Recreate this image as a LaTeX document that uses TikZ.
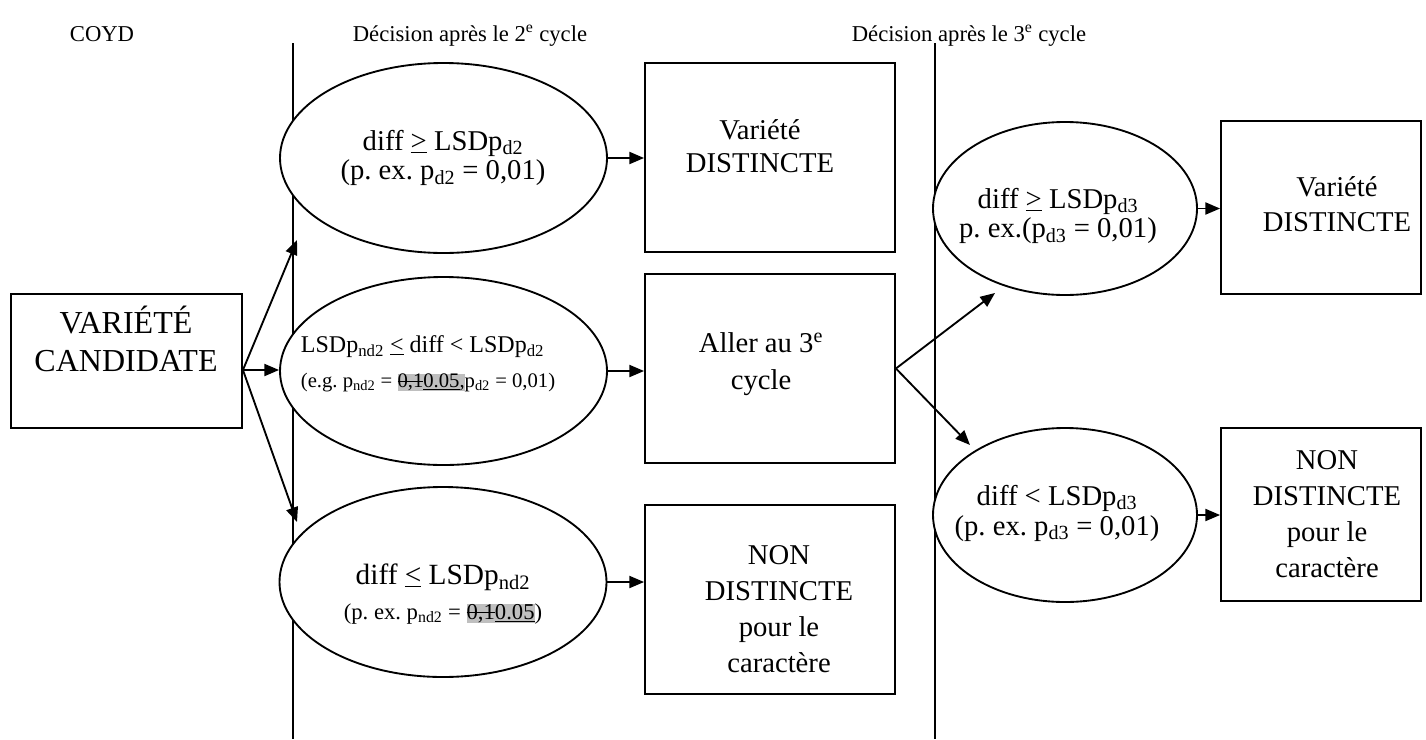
\documentclass[tikz,border=0pt]{standalone}
\usepackage{fontspec}
\setmainfont{Liberation Serif}
\usetikzlibrary{shapes.geometric}
\usetikzlibrary{arrows.meta}
\frenchspacing

\newlength{\strikelen}
\newcommand{\ssub}[1]{\textsubscript{#1}}
\newcommand{\strike}[1]{\settowidth{\strikelen}{#1}\rlap{\rule[0.28em]{\strikelen}{0.06em}}#1}
\newcommand{\grayhl}[1]{{\setlength{\fboxsep}{0pt}\colorbox{gray!50}{#1}}}

\begin{document}
\begin{tikzpicture}[x=0.75pt, y=-0.75pt, line width=1.4pt,
    box/.style={draw, rectangle, inner sep=0pt, minimum width=250*0.75pt, minimum height=189*0.75pt},
    oval/.style={draw, ellipse, fill=white, inner sep=0pt, minimum width=327*0.75pt, minimum height=190*0.75pt},
    txt/.style={align=center, inner sep=0pt, font=\fontsize{21.5}{26}\selectfont},
    head/.style={inner sep=0pt, anchor=base, font=\fontsize{17}{20}\selectfont},
    arr/.style={-{Triangle[length=11pt, width=9pt]}}]
    \useasboundingbox (0,0) rectangle (1426,739);

    % column titles
    \node[head] (coyd) at (102,41) {COYD};
    \node[head] (cycle2) at (470,41) {Décision après le 2\textsuperscript{e} cycle};
    \node[head] (cycle3) at (969,41) {Décision après le 3\textsuperscript{e} cycle};

    % draw separating lines
    \draw (293,43) -- (293,739);
    \draw (935,43) -- (935,739);

    % candidate variety
    \node[box, minimum width=231*0.75pt, minimum height=134*0.75pt] (cand) at (126.5,361) {};
    \node[txt, font=\fontsize{24}{28.5}\selectfont] (candtxt) at (126,339) {VARIÉTÉ\\CANDIDATE};

    % decisions after the 2nd cycle
    \node[oval] (dist2test) at (443.5,158) {};
    \node[txt, font=\fontsize{21.5}{22}\selectfont] (dist2testtxt) at (443,158)
        {diff \underline{>} LSDp\ssub{d2}\\(p. ex. p\ssub{d2} = 0,01)};
    \node[oval, minimum height=188*0.75pt] (gotest) at (443.5,371) {};
    \node[txt, align=left, anchor=west] (gotesttxt) at (300,364)
        {\fontsize{18}{21}\selectfont LSDp\ssub{nd2} \underline{<} diff < LSDp\ssub{d2}\\
         \fontsize{15.5}{21}\selectfont (e.g. p\ssub{nd2} = \grayhl{\strike{0,1}\underline{0.05},}p\ssub{d2} = 0,01)};
    \node[oval] (nondist2test) at (443,582) {};
    \node[txt] (nondist2testtxt) at (443,594)
        {\fontsize{22}{23}\selectfont diff \underline{<} LSDp\ssub{nd2}\\
         \fontsize{17}{23}\selectfont (p. ex. p\ssub{nd2} = \grayhl{\strike{0,1}\underline{0.05}})};

    \node[box] (dist2) at (770,157.5) {};
    \node[txt, font=\fontsize{21.5}{24.75}\selectfont] (dist2txt) at (760,146.5) {Variété\\DISTINCTE};
    \node[box] (go3) at (770,368.5) {};
    \node[txt, font=\fontsize{21.5}{27.75}\selectfont] (go3txt) at (761,364) {Aller au 3\textsuperscript{e}\\cycle};
    \node[box] (nondist2) at (770,599.5) {};
    \node[txt, font=\fontsize{21.5}{27}\selectfont] (nondist2txt) at (779,609) {NON\\DISTINCTE\\pour le\\caractère};

    % decisions after the 3rd cycle
    \node[oval, minimum width=264*0.75pt, minimum height=173*0.75pt] (dist3test) at (1065,208.5) {};
    \node[txt, font=\fontsize{21.5}{22}\selectfont] (dist3testtxt) at (1058,216)
        {diff \underline{>} LSDp\ssub{d3}\\p. ex.(p\ssub{d3} = 0,01)};
    \node[oval, minimum width=264*0.75pt, minimum height=174*0.75pt] (nondist3test) at (1065,515) {};
    \node[txt, font=\fontsize{21.5}{22.5}\selectfont] (nondist3testtxt) at (1057,513)
        {diff < LSDp\ssub{d3}\\(p. ex. p\ssub{d3} = 0,01)};

    \node[box, minimum width=200*0.75pt, minimum height=173*0.75pt] (dist3) at (1321,207.5) {};
    \node[txt, font=\fontsize{21.5}{26.25}\selectfont] (dist3txt) at (1337,204.5) {Variété\\DISTINCTE};
    \node[box, minimum width=200*0.75pt, minimum height=173*0.75pt] (nondist3) at (1321,514.5) {};
    \node[txt, font=\fontsize{21.5}{27}\selectfont] (nondist3txt) at (1327,514) {NON\\DISTINCTE\\pour le\\caractère};

    % arrow ends
    \coordinate (dist2in) at (297,240);
    \coordinate (nondist2in) at (297,522);
    \coordinate (dist3in) at (995,293);
    \coordinate (nondist3in) at (970,445);

    % draw arrows
    \draw[arr] ([yshift=-6.75pt]cand.east) -- (dist2in);
    \draw[arr] ([yshift=-6.75pt]cand.east) -- ([yshift=-6.75pt]cand.east -| gotest.west);
    \draw[arr] ([yshift=-6.75pt]cand.east) -- (nondist2in);
    \draw[arr] (dist2test.east) -- (dist2test.east -| dist2.west);
    \draw[arr] (gotest.east) -- (gotest.east -| go3.west);
    \draw[arr] (nondist2test.east) -- (nondist2test.east -| nondist2.west);
    \draw[arr] (go3.east) -- (dist3in);
    \draw[arr] (go3.east) -- (nondist3in);
    \draw[arr] (dist3test.east) -- (dist3test.east -| dist3.west);
    \draw[arr] (nondist3test.east) -- (nondist3test.east -| nondist3.west);
\end{tikzpicture}
\end{document}
